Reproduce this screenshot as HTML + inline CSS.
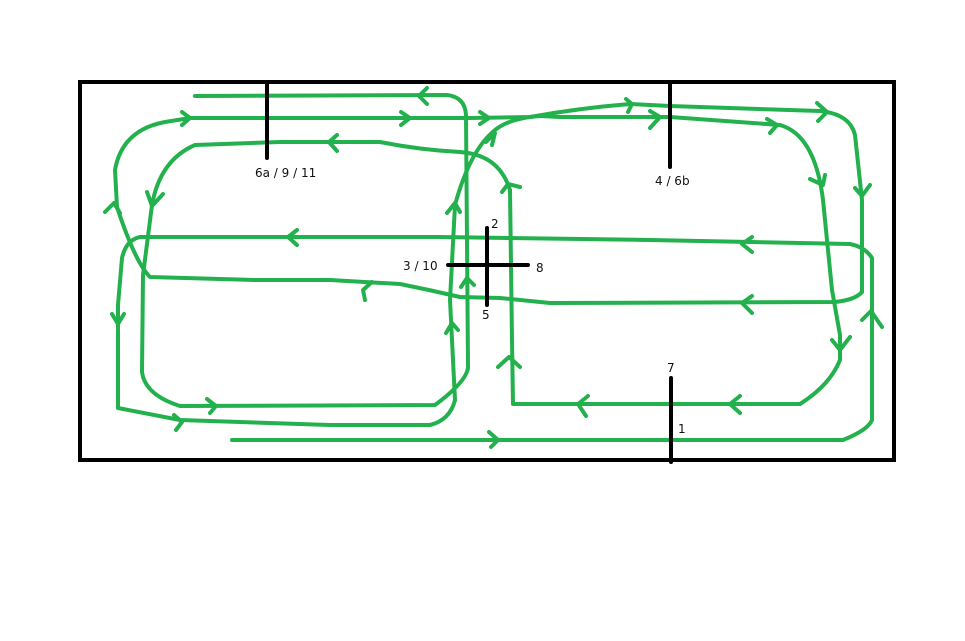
<!DOCTYPE html>
<html><head><meta charset="utf-8"><style>
html,body{margin:0;padding:0;background:#fff;}
svg{display:block;}
text{font-family:"DejaVu Sans","Liberation Sans",sans-serif;font-size:12px;fill:#111;}
</style></head><body>
<svg width="965" height="641" viewBox="0 0 965 641" xmlns="http://www.w3.org/2000/svg">
<rect width="965" height="641" fill="#fff"/>
<g fill="none" stroke="#22b14c" stroke-width="4" stroke-linejoin="round" stroke-linecap="round">
<path d="M195,96 L447,95 Q465,97 466,115 L468,368 Q466,382 435,405 L180,406 Q145,395 142,372 L143,275 L152,205 Q160,160 195,145 L280,142 L380,142 Q420,150 460,152 L468,153"/>
<path d="M468,153 Q500,158 510,190 L512,340 L513,404 L670,404 L800,404 Q830,385 840,360 L840,335 L832,290 L823,200 Q815,135 780,125 L670,117 L560,117"/>
<path d="M455,400 L450,300 L455,205 Q470,150 495,130 Q510,118 540,116 L560,117"/>
<path d="M455,400 Q450,420 430,425 L330,425 L180,420 L118,408 L118,305 L122,258 Q126,240 140,237 L440,237 L650,240 L850,244 Q865,247 872,258 L872,420 Q868,430 843,440 L500,440 L232,440"/>
<path d="M530,117 Q580,108 630,104 L670,106 L820,111 Q850,114 855,135 L862,200 L862,292 Q855,300 835,302 L550,303 L500,298 L460,297 Q430,290 400,284 L330,280 L255,280 L150,277 Q135,262 117,207 L115,170 Q122,130 165,122 L190,118 L470,118 L530,117"/>
<path d="M427,88 L419,96 L427,104"/>
<path d="M182,112 L190,118 L182,125"/>
<path d="M401,112 L410,118 L401,125"/>
<path d="M480,112 L489,118 L480,124"/>
<path d="M337,135 L329,142 L337,151"/>
<path d="M147,192 L152,206 L163,194"/>
<path d="M105,212 L114,203 L120,213"/>
<path d="M112,314 L118,324 L124,314"/>
<path d="M297,230 L288,237 L297,245"/>
<path d="M372,282 L363,290 L365,300"/>
<path d="M207,399 L216,406 L210,413"/>
<path d="M174,415 L182,422 L176,430"/>
<path d="M447,213 L455,203 L460,212"/>
<path d="M461,287 L467,278 L474,285"/>
<path d="M446,333 L452,323 L458,330"/>
<path d="M502,192 L508,184 L520,187"/>
<path d="M498,367 L509,357 L520,367"/>
<path d="M489,432 L498,440 L491,447"/>
<path d="M588,396 L578,404 L586,416"/>
<path d="M740,396 L730,404 L740,413"/>
<path d="M752,237 L742,244 L752,252"/>
<path d="M752,296 L742,303 L752,313"/>
<path d="M832,340 L840,350 L850,337"/>
<path d="M862,320 L871,311 L882,327"/>
<path d="M810,179 L823,185 L825,175"/>
<path d="M855,188 L862,196 L870,185"/>
<path d="M817,103 L827,112 L818,121"/>
<path d="M767,119 L777,125 L770,133"/>
<path d="M626,99 L632,104 L628,112"/>
<path d="M650,128 L660,117 L650,111"/>
<path d="M486,142 L495,133 L492,145"/>
</g>
<g stroke="#000" fill="none" stroke-linecap="round">
<rect x="80" y="82" width="814" height="378" stroke-width="4"/>
<line x1="267" y1="82" x2="267" y2="158" stroke-width="4"/>
<line x1="670" y1="82" x2="670" y2="167" stroke-width="4"/>
<line x1="671" y1="378" x2="671" y2="462" stroke-width="4"/>
<line x1="487" y1="228" x2="487" y2="305" stroke-width="4"/>
<line x1="448" y1="265" x2="528" y2="265" stroke-width="4"/>
</g>
<text x="255" y="177">6a / 9 / 11</text>
<text x="655" y="185">4 / 6b</text>
<text x="491" y="228">2</text>
<text x="403" y="270">3 / 10</text>
<text x="536" y="272">8</text>
<text x="482" y="319">5</text>
<text x="667" y="372">7</text>
<text x="678" y="433">1</text>
</svg>
</body></html>
